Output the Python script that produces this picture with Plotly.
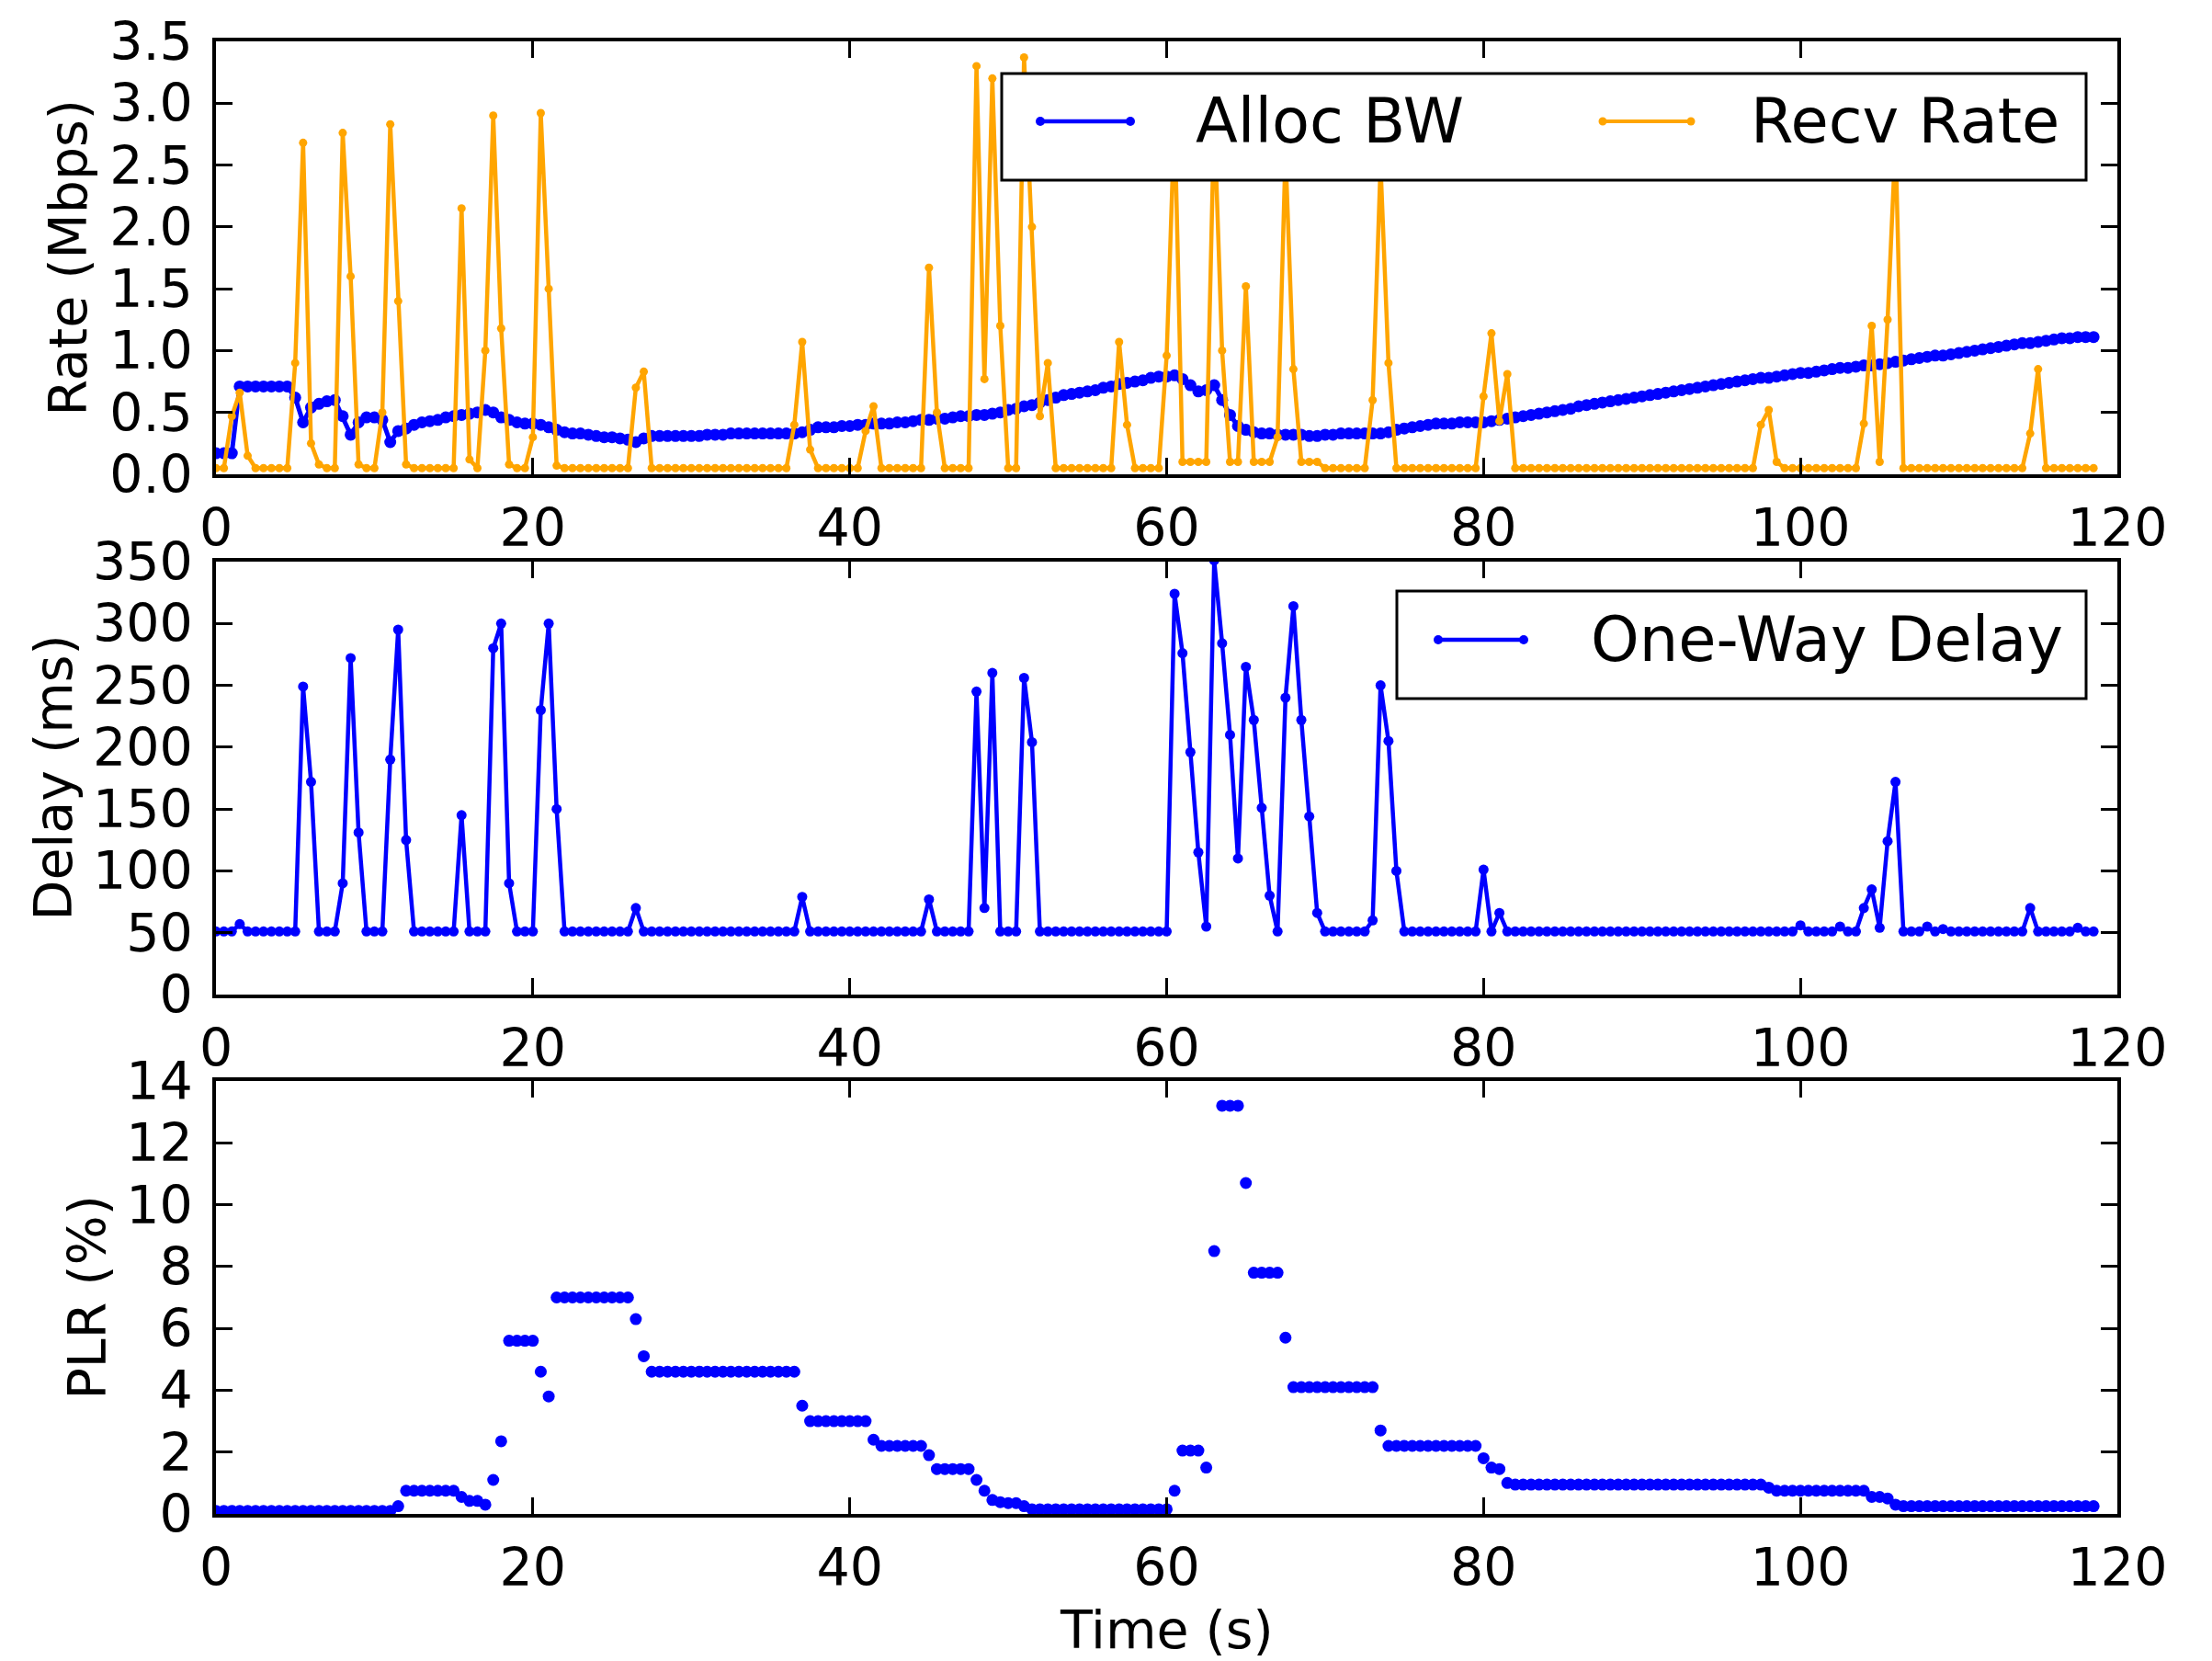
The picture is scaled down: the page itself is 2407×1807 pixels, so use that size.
import plotly.graph_objects as go

# ---------------- data (sampled every 0.5 s, starting at t = 0) ----------------
alloc_bw = [
    0.17, 0.17, 0.17, 0.71, 0.71, 0.71, 0.71, 0.71, 0.71, 0.71,   # 0-4.5
    0.62, 0.42, 0.54, 0.57, 0.59, 0.60, 0.47, 0.32, 0.42, 0.46,   # 5-9.5
    0.46, 0.44, 0.26, 0.35, 0.37, 0.40, 0.42, 0.43, 0.44, 0.46,   # 10
    0.47, 0.48, 0.49, 0.50, 0.52, 0.50, 0.46, 0.44, 0.42, 0.41,   # 15
    0.41, 0.40, 0.38, 0.36, 0.34, 0.33, 0.33, 0.32, 0.31, 0.30,   # 20
    0.30, 0.29, 0.28, 0.26, 0.29, 0.31, 0.31, 0.31, 0.31, 0.31,   # 25
    0.31, 0.31, 0.32, 0.32, 0.32, 0.33, 0.33, 0.33, 0.33, 0.33,   # 30
    0.33, 0.33, 0.33, 0.33, 0.34, 0.36, 0.38, 0.38, 0.38, 0.39,   # 35
    0.39, 0.40, 0.40, 0.41, 0.41, 0.41, 0.42, 0.42, 0.43, 0.44,   # 40
    0.44, 0.45, 0.45, 0.46, 0.47, 0.47, 0.48, 0.48, 0.49, 0.50,   # 45
    0.52, 0.53, 0.55, 0.56, 0.58, 0.60, 0.62, 0.64, 0.65, 0.66,   # 50
    0.67, 0.68, 0.70, 0.71, 0.73, 0.74, 0.75, 0.76, 0.78, 0.79,   # 55
    0.79, 0.80, 0.77, 0.72, 0.67, 0.68, 0.72, 0.60, 0.48, 0.39,   # 60
    0.36, 0.34, 0.33, 0.33, 0.32, 0.32, 0.32, 0.32, 0.31, 0.31,   # 65
    0.32, 0.32, 0.33, 0.33, 0.33, 0.33, 0.33, 0.33, 0.34, 0.36,   # 70
    0.37, 0.38, 0.39, 0.40, 0.41, 0.41, 0.41, 0.42, 0.42, 0.42,   # 75
    0.42, 0.43, 0.44, 0.45, 0.46, 0.47, 0.48, 0.49, 0.50, 0.51,   # 80
    0.52, 0.53, 0.55, 0.56, 0.57, 0.58, 0.59, 0.60, 0.61, 0.62,   # 85
    0.63, 0.64, 0.65, 0.66, 0.67, 0.68, 0.69, 0.70, 0.71, 0.72,   # 90
    0.73, 0.74, 0.75, 0.76, 0.77, 0.78, 0.78, 0.79, 0.80, 0.81,   # 95
    0.82, 0.82, 0.83, 0.84, 0.85, 0.86, 0.86, 0.87, 0.88, 0.88,   # 100
    0.89, 0.90, 0.91, 0.92, 0.93, 0.94, 0.95, 0.96, 0.96, 0.97,   # 105
    0.98, 0.99, 1.00, 1.01, 1.02, 1.03, 1.04, 1.05, 1.06, 1.06,   # 110
    1.07, 1.08, 1.09, 1.10, 1.10, 1.11, 1.11, 1.11,               # 115-118.5
]

recv_rate = [
    0.05, 0.05, 0.47, 0.66, 0.15, 0.05, 0.05, 0.05, 0.05, 0.05,   # 0
    0.90, 2.68, 0.25, 0.08, 0.05, 0.05, 2.76, 1.60, 0.08, 0.05,   # 5
    0.05, 0.50, 2.83, 1.40, 0.08, 0.05, 0.05, 0.05, 0.05, 0.05,   # 10
    0.05, 2.15, 0.12, 0.05, 1.00, 2.90, 1.18, 0.08, 0.05, 0.05,   # 15
    0.30, 2.92, 1.50, 0.07, 0.05, 0.05, 0.05, 0.05, 0.05, 0.05,   # 20
    0.05, 0.05, 0.05, 0.70, 0.83, 0.05, 0.05, 0.05, 0.05, 0.05,   # 25
    0.05, 0.05, 0.05, 0.05, 0.05, 0.05, 0.05, 0.05, 0.05, 0.05,   # 30
    0.05, 0.05, 0.05, 0.40, 1.07, 0.20, 0.05, 0.05, 0.05, 0.05,   # 35
    0.05, 0.05, 0.35, 0.55, 0.05, 0.05, 0.05, 0.05, 0.05, 0.05,   # 40
    1.67, 0.50, 0.05, 0.05, 0.05, 0.05, 3.30, 0.77, 3.20, 1.20,   # 45
    0.05, 0.05, 3.37, 2.00, 0.47, 0.90, 0.05, 0.05, 0.05, 0.05,   # 50
    0.05, 0.05, 0.05, 0.05, 1.07, 0.40, 0.05, 0.05, 0.05, 0.05,   # 55
    0.96, 2.90, 0.10, 0.10, 0.10, 0.10, 2.90, 1.00, 0.10, 0.10,   # 60
    1.52, 0.10, 0.10, 0.10, 0.30, 2.60, 0.85, 0.10, 0.10, 0.10,   # 65
    0.05, 0.05, 0.05, 0.05, 0.05, 0.05, 0.60, 2.50, 0.90, 0.05,   # 70
    0.05, 0.05, 0.05, 0.05, 0.05, 0.05, 0.05, 0.05, 0.05, 0.05,   # 75
    0.63, 1.14, 0.43, 0.81, 0.05, 0.05, 0.05, 0.05, 0.05, 0.05,   # 80
    0.05, 0.05, 0.05, 0.05, 0.05, 0.05, 0.05, 0.05, 0.05, 0.05,   # 85
    0.05, 0.05, 0.05, 0.05, 0.05, 0.05, 0.05, 0.05, 0.05, 0.05,   # 90
    0.05, 0.05, 0.05, 0.05, 0.05, 0.40, 0.52, 0.10, 0.05, 0.05,   # 95
    0.05, 0.05, 0.05, 0.05, 0.05, 0.05, 0.05, 0.05, 0.41, 1.20,   # 100
    0.10, 1.25, 2.70, 0.05, 0.05, 0.05, 0.05, 0.05, 0.05, 0.05,   # 105
    0.05, 0.05, 0.05, 0.05, 0.05, 0.05, 0.05, 0.05, 0.05, 0.33,   # 110
    0.85, 0.05, 0.05, 0.05, 0.05, 0.05, 0.05, 0.05,               # 115
]

one_way_delay = [
    51, 51, 51, 57, 51, 51, 51, 51, 51, 51,          # 0
    51, 249, 172, 51, 51, 51, 90, 272, 131, 51,      # 5
    51, 51, 190, 295, 125, 51, 51, 51, 51, 51,       # 10
    51, 145, 51, 51, 51, 280, 300, 90, 51, 51,       # 15
    51, 230, 300, 150, 51, 51, 51, 51, 51, 51,       # 20
    51, 51, 51, 70, 51, 51, 51, 51, 51, 51,          # 25
    51, 51, 51, 51, 51, 51, 51, 51, 51, 51,          # 30
    51, 51, 51, 51, 79, 51, 51, 51, 51, 51,          # 35
    51, 51, 51, 51, 51, 51, 51, 51, 51, 51,          # 40
    77, 51, 51, 51, 51, 51, 245, 70, 260, 51,        # 45
    51, 51, 256, 204, 51, 51, 51, 51, 51, 51,        # 50
    51, 51, 51, 51, 51, 51, 51, 51, 51, 51,          # 55
    51, 324, 276, 196, 115, 55, 351, 284, 210, 110,  # 60
    265, 222, 151, 80, 51, 240, 314, 222, 144, 66,   # 65
    51, 51, 51, 51, 51, 51, 60, 250, 205, 100,       # 70
    51, 51, 51, 51, 51, 51, 51, 51, 51, 51,          # 75
    101, 51, 66, 51, 51, 51, 51, 51, 51, 51,         # 80
    51, 51, 51, 51, 51, 51, 51, 51, 51, 51,          # 85
    51, 51, 51, 51, 51, 51, 51, 51, 51, 51,          # 90
    51, 51, 51, 51, 51, 51, 51, 51, 51, 51,          # 95
    56, 51, 51, 51, 51, 55, 51, 51, 70, 85,          # 100
    54, 124, 172, 51, 51, 51, 55, 51, 53, 51,        # 105
    51, 51, 51, 51, 51, 51, 51, 51, 51, 70,          # 110
    51, 51, 51, 51, 51, 54, 51, 51,                  # 115
]

plr = [
    0.10, 0.10, 0.10, 0.10, 0.10, 0.10, 0.10, 0.10, 0.10, 0.10,   # 0
    0.10, 0.10, 0.10, 0.10, 0.10, 0.10, 0.10, 0.10, 0.10, 0.10,   # 5
    0.10, 0.10, 0.10, 0.25, 0.75, 0.75, 0.75, 0.75, 0.75, 0.75,   # 10
    0.75, 0.55, 0.42, 0.42, 0.30, 1.10, 2.35, 5.60, 5.60, 5.60,   # 15
    5.60, 4.60, 3.80, 7.00, 7.00, 7.00, 7.00, 7.00, 7.00, 7.00,   # 20
    7.00, 7.00, 7.00, 6.30, 5.10, 4.60, 4.60, 4.60, 4.60, 4.60,   # 25
    4.60, 4.60, 4.60, 4.60, 4.60, 4.60, 4.60, 4.60, 4.60, 4.60,   # 30
    4.60, 4.60, 4.60, 4.60, 3.50, 3.00, 3.00, 3.00, 3.00, 3.00,   # 35
    3.00, 3.00, 3.00, 2.40, 2.20, 2.20, 2.20, 2.20, 2.20, 2.20,   # 40
    1.90, 1.45, 1.45, 1.45, 1.45, 1.45, 1.10, 0.75, 0.45, 0.38,   # 45
    0.35, 0.35, 0.25, 0.15, 0.15, 0.15, 0.15, 0.15, 0.15, 0.15,   # 50
    0.15, 0.15, 0.15, 0.15, 0.15, 0.15, 0.15, 0.15, 0.15, 0.15,   # 55
    0.15, 0.75, 2.05, 2.05, 2.05, 1.50, 8.50, 13.20, 13.20, 13.20, # 60
    10.70, 7.80, 7.80, 7.80, 7.80, 5.70, 4.10, 4.10, 4.10, 4.10,  # 65
    4.10, 4.10, 4.10, 4.10, 4.10, 4.10, 4.10, 2.70, 2.20, 2.20,   # 70
    2.20, 2.20, 2.20, 2.20, 2.20, 2.20, 2.20, 2.20, 2.20, 2.20,   # 75
    1.80, 1.50, 1.45, 1.00, 0.95, 0.95, 0.95, 0.95, 0.95, 0.95,   # 80
    0.95, 0.95, 0.95, 0.95, 0.95, 0.95, 0.95, 0.95, 0.95, 0.95,   # 85
    0.95, 0.95, 0.95, 0.95, 0.95, 0.95, 0.95, 0.95, 0.95, 0.95,   # 90
    0.95, 0.95, 0.95, 0.95, 0.95, 0.95, 0.85, 0.75, 0.75, 0.75,   # 95
    0.75, 0.75, 0.75, 0.75, 0.75, 0.75, 0.75, 0.75, 0.75, 0.55,   # 100
    0.55, 0.50, 0.30, 0.25, 0.25, 0.25, 0.25, 0.25, 0.25, 0.25,   # 105
    0.25, 0.25, 0.25, 0.25, 0.25, 0.25, 0.25, 0.25, 0.25, 0.25,   # 110
    0.25, 0.25, 0.25, 0.25, 0.25, 0.25, 0.25, 0.25,               # 115
]

sample_step_s = 0.5
time_s = [round(i * sample_step_s, 2) for i in range(len(alloc_bw))]

x_ticks = [0, 20, 40, 60, 80, 100, 120]

# ---------------- styling ----------------
BLUE = "#0000FF"
ORANGE = "#FFA500"
FONT = "DejaVu Sans"
W, H = 2407, 1807
ML, MR, MT, MB = 235, 103, 45, 160
plot_w = W - ML - MR
plot_h = H - MT - MB


def px_x(px):
    return (px - ML) / plot_w


def px_y(py):
    return (H - MB - py) / plot_h


def ydom(top_px, bot_px):
    return [px_y(bot_px), px_y(top_px)]


fig = go.Figure()

fig.add_trace(go.Scatter(
    x=time_s, y=alloc_bw, name="Alloc BW", mode="lines+markers",
    line=dict(color=BLUE, width=5), marker=dict(color=BLUE, size=13),
    xaxis="x", yaxis="y", showlegend=False))
fig.add_trace(go.Scatter(
    x=time_s, y=recv_rate, name="Recv Rate", mode="lines+markers",
    line=dict(color=ORANGE, width=4.5), marker=dict(color=ORANGE, size=9),
    xaxis="x", yaxis="y", showlegend=False))
fig.add_trace(go.Scatter(
    x=time_s, y=one_way_delay, name="One-Way Delay", mode="lines+markers",
    line=dict(color=BLUE, width=4.5), marker=dict(color=BLUE, size=11),
    xaxis="x2", yaxis="y2", showlegend=False))
fig.add_trace(go.Scatter(
    x=time_s, y=plr, name="PLR", mode="markers",
    marker=dict(color=BLUE, size=13), showlegend=False,
    xaxis="x3", yaxis="y3"))

common = dict(
    showline=True, linecolor="black", linewidth=3.5, mirror="allticks",
    ticks="inside", ticklen=18, tickwidth=2.5, tickcolor="black",
    showgrid=False, zeroline=False,
    tickfont=dict(family=FONT, size=57, color="black"),
)

xcommon = dict(common, range=[0, 120], tickvals=x_ticks, ticklabelstandoff=6)

fig.update_layout(
    width=W, height=H,
    margin=dict(l=ML, r=MR, t=MT, b=MB),
    paper_bgcolor="white", plot_bgcolor="white",
    font=dict(family=FONT, color="black"),
    showlegend=False,
    xaxis=dict(xcommon, domain=[0, 1], anchor="y"),
    xaxis2=dict(xcommon, domain=[0, 1], anchor="y2"),
    xaxis3=dict(xcommon, domain=[0, 1], anchor="y3"),
    yaxis=dict(common, domain=ydom(45, 516), range=[0, 3.5], dtick=0.5,
               tickformat=".1f", anchor="x", ticklabelstandoff=10),
    yaxis2=dict(common, domain=ydom(611, 1082), range=[0, 350], dtick=50,
                anchor="x2", ticklabelstandoff=10),
    yaxis3=dict(common, domain=ydom(1176, 1647), range=[0, 14], dtick=2,
                anchor="x3", ticklabelstandoff=10),
)

# ---------------- legends (matplotlib-style boxes, two markers per sample) ----------------
shapes = []
legend_font = dict(family=FONT, size=67, color="black")


def legend_box(x0, y0, x1, y1):
    shapes.append(dict(type="rect", xref="paper", yref="paper",
                       x0=px_x(x0), x1=px_x(x1), y0=px_y(y1), y1=px_y(y0),
                       line=dict(color="black", width=3), fillcolor="white",
                       layer="above"))


def legend_sample(x0, x1, y, color, lw, r):
    shapes.append(dict(type="line", xref="paper", yref="paper",
                       x0=px_x(x0), x1=px_x(x1), y0=px_y(y), y1=px_y(y),
                       line=dict(color=color, width=lw), layer="above"))
    for xc in (x0, x1):
        shapes.append(dict(type="circle", xref="paper", yref="paper",
                           x0=px_x(xc - r), x1=px_x(xc + r),
                           y0=px_y(y + r), y1=px_y(y - r),
                           line=dict(color=color, width=0), fillcolor=color,
                           layer="above"))


legend_box(1090, 80, 2270, 196)
legend_sample(1132, 1230, 132, BLUE, 4.5, 5)
legend_sample(1744, 1840, 132, ORANGE, 4, 4.5)
legend_box(1520, 643, 2270, 760)
legend_sample(1565, 1658, 696, BLUE, 4.5, 5)

fig.update_layout(shapes=shapes)

legend_texts = [
    dict(text="Alloc BW", x=px_x(1299), y=px_y(132)),
    dict(text="Recv Rate", x=px_x(1903), y=px_y(132)),
    dict(text="One-Way Delay", x=px_x(1729), y=px_y(696)),
]
for a in legend_texts:
    fig.add_annotation(xref="paper", yref="paper", showarrow=False,
                       xanchor="left", yanchor="middle", font=legend_font, **a)

label_font = dict(family=FONT, size=57, color="black")
annots = [
    dict(text="Rate (Mbps)", x=px_x(74), y=px_y(280.5), textangle=-90),
    dict(text="Delay (ms)", x=px_x(57), y=px_y(846.5), textangle=-90),
    dict(text="PLR (%)", x=px_x(94), y=px_y(1411.5), textangle=-90),
    dict(text="Time (s)", x=px_x(1269), y=px_y(1773), textangle=0),
]
for a in annots:
    fig.add_annotation(xref="paper", yref="paper", showarrow=False,
                       xanchor="center", yanchor="middle", font=label_font, **a)

fig.write_html("out.html", config=dict(displayModeBar=False))
